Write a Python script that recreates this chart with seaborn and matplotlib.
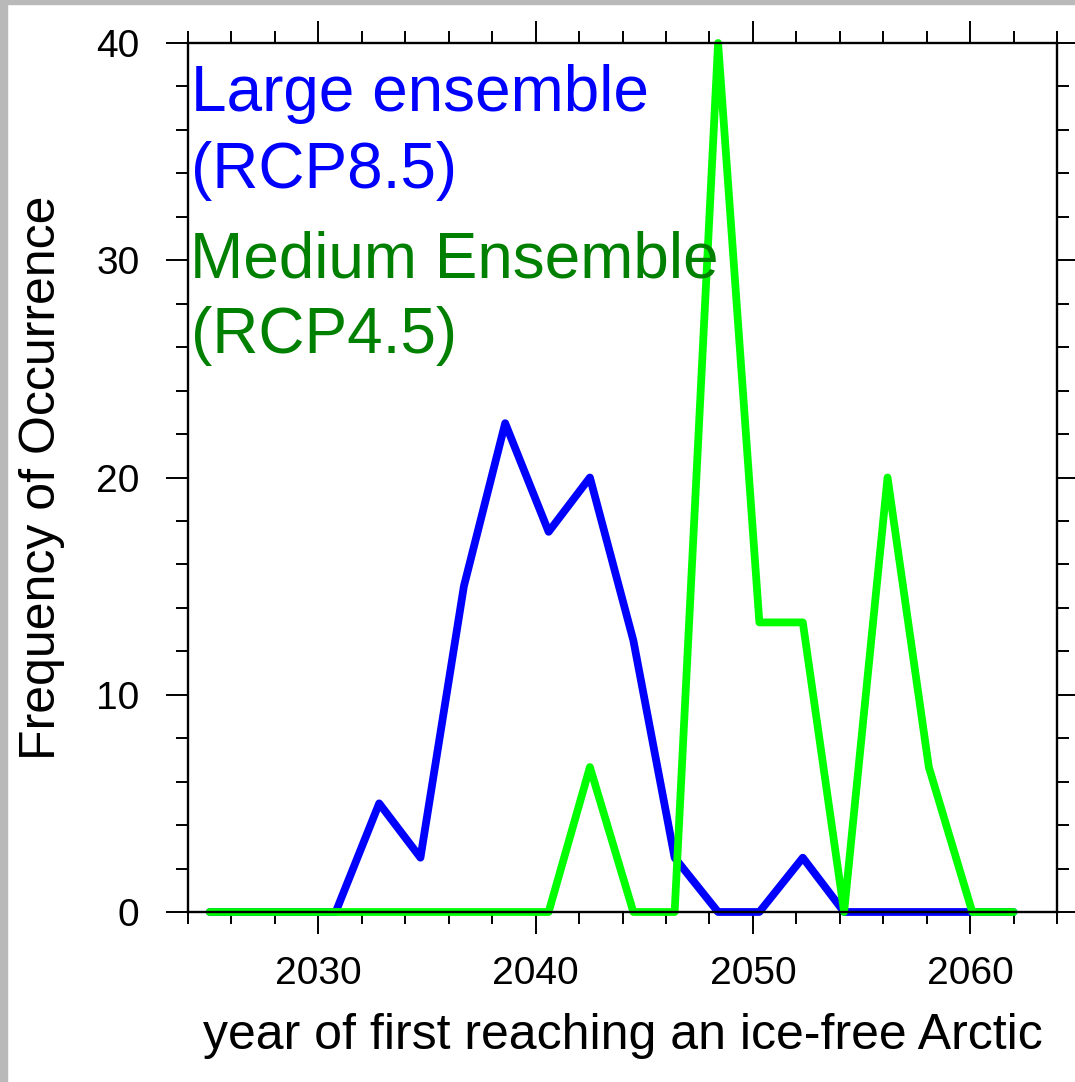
import matplotlib
matplotlib.use("Agg")
import matplotlib.pyplot as plt
from matplotlib.patches import Rectangle
from matplotlib.ticker import MultipleLocator
import seaborn as sns
import pandas as pd

# ---- data ----
years = [2025.0, 2026.9, 2028.9, 2030.8, 2032.8, 2034.7, 2036.7, 2038.6, 2040.6, 2042.5,
         2044.5, 2046.4, 2048.4, 2050.3, 2052.3, 2054.2, 2056.2, 2058.1, 2060.1, 2062.0]
large_rcp85 = [0, 0, 0, 0, 5.0, 2.5, 15.0, 22.5, 17.5, 20.0,
               12.5, 2.5, 0, 0, 2.5, 0, 0, 0, 0, 0]
medium_rcp45 = [0, 0, 0, 0, 0, 0, 0, 0, 0, 6.67,
                0, 0, 40.0, 13.33, 13.33, 0, 20.0, 6.67, 0, 0]
series_names = ["Large ensemble (RCP8.5)", "Medium Ensemble (RCP4.5)"]
y_ticks = [0, 10, 20, 30, 40]
x_ticks = [2030, 2040, 2050, 2060]
x_label = "year of first reaching an ice-free Arctic"
y_label = "Frequency of Occurrence"

df = pd.concat([
    pd.DataFrame({"year": years, "freq": large_rcp85, "ensemble": series_names[0]}),
    pd.DataFrame({"year": years, "freq": medium_rcp45, "ensemble": series_names[1]}),
], ignore_index=True)

sns.set_style("white")
plt.rcParams["font.family"] = ["Liberation Sans", "DejaVu Sans"]
plt.rcParams["text.color"] = "black"
plt.rcParams["axes.labelcolor"] = "black"

W, H = 1075, 1082
fig = plt.figure(figsize=(W / 100, H / 100), dpi=100, facecolor="white")
# grey border strips like the reference
fig.patches.append(Rectangle((0, 0), 7 / W, 1, transform=fig.transFigure,
                             color="#b9b9b9", zorder=0))
fig.patches.append(Rectangle((0, 1 - 4 / H), 1, 4 / H, transform=fig.transFigure,
                             color="#b9b9b9", zorder=0))

L, R, T, B = 188, 1057, 43, 912
ax = fig.add_axes([L / W, 1 - B / H, (R - L) / W, (B - T) / H])

palette = {series_names[0]: "#0000ff", series_names[1]: "#00ff00"}
sns.lineplot(data=df, x="year", y="freq", hue="ensemble", hue_order=series_names,
             palette=palette, linewidth=5.6, estimator=None, sort=False,
             legend=False, ax=ax)
for ln in ax.lines:
    ln.set_solid_capstyle("round")
    ln.set_solid_joinstyle("round")
    ln.set_clip_on(False)

ax.set_xlim(2024, 2064)
ax.set_ylim(0, 40)
ax.set_xticks(x_ticks)
ax.set_yticks(y_ticks)
ax.xaxis.set_minor_locator(MultipleLocator(2))
ax.yaxis.set_minor_locator(MultipleLocator(2))

for sp in ax.spines.values():
    sp.set_visible(True)
    sp.set_color("black")
    sp.set_linewidth(1.7)

ax.tick_params(which="both", direction="out", top=True, right=True,
               bottom=True, left=True, colors="black", width=1.4)
ax.tick_params(which="major", length=16)
ax.tick_params(which="minor", length=8.5)
ax.tick_params(axis="x", which="major", labelsize=28, pad=16)
ax.tick_params(axis="y", which="major", labelsize=28, pad=19)

ax.set_xlabel(x_label, fontsize=36, color="black")
ax.set_ylabel(y_label, fontsize=36, color="black")
ax.xaxis.set_label_coords(0.5, -0.116)
ax.yaxis.set_label_coords(-0.1415, 0.5)
ax.grid(False)

# in-plot legend text
fs = 46
ax.text(0.003, 0.9221, "Large ensemble", color="#0000ff", fontsize=fs,
        transform=ax.transAxes, va="baseline", ha="left")
ax.text(0.004, 0.8331, "(RCP8.5)", color="#0000ff", fontsize=fs,
        transform=ax.transAxes, va="baseline", ha="left")
ax.text(0.002, 0.7307, "Medium Ensemble", color="#008000", fontsize=fs,
        transform=ax.transAxes, va="baseline", ha="left")
ax.text(0.004, 0.6433, "(RCP4.5)", color="#008000", fontsize=fs,
        transform=ax.transAxes, va="baseline", ha="left")

fig.savefig("out.png", dpi=100, facecolor="white")
